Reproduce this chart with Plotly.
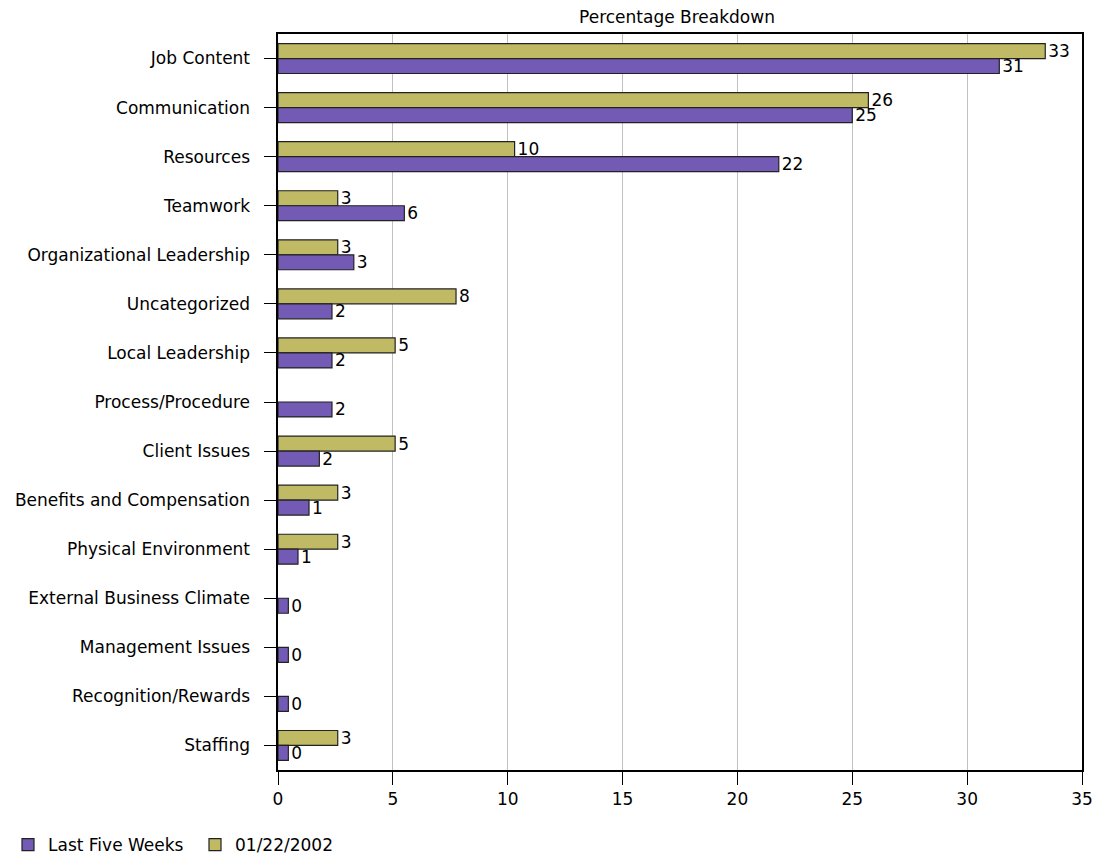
import plotly.graph_objects as go

categories = ["Job Content", "Communication", "Resources", "Teamwork",
              "Organizational Leadership", "Uncategorized", "Local Leadership",
              "Process/Procedure", "Client Issues", "Benefits and Compensation",
              "Physical Environment", "External Business Climate",
              "Management Issues", "Recognition/Rewards", "Staffing"]

last_five_weeks = [31.4, 25.0, 21.8, 5.5, 3.3, 2.35, 2.35, 2.35, 1.8, 1.35,
                   0.87, 0.45, 0.45, 0.45, 0.45]
jan_22_2002 = [33.4, 25.7, 10.3, 2.6, 2.6, 7.75, 5.1, None, 5.1, 2.6,
               2.6, None, None, None, 2.6]

OLIVE = "#BFBA63"
PURPLE = "#735BB5"
FONT = "DejaVu Sans"
FS = 17

fig = go.Figure()
fig.add_trace(go.Bar(
    y=categories, x=jan_22_2002, orientation="h", name="01/22/2002",
    marker=dict(color=OLIVE, line=dict(color="#222222", width=1.2)),
    texttemplate="%{x:.0f}", textposition="outside", cliponaxis=False,
    constraintext="none",
    textfont=dict(family=FONT, size=FS, color="black"), legendrank=2,
))
fig.add_trace(go.Bar(
    y=categories, x=last_five_weeks, orientation="h", name="Last Five Weeks",
    marker=dict(color=PURPLE, line=dict(color="#222222", width=1.2)),
    texttemplate="%{x:.0f}", textposition="outside", cliponaxis=False,
    constraintext="none",
    textfont=dict(family=FONT, size=FS, color="black"), legendrank=1,
))

fig.update_layout(
    width=1102, height=854,
    margin=dict(l=270, r=28, t=26, b=92),
    barmode="group", bargap=0.39, bargroupgap=0,
    paper_bgcolor="white", plot_bgcolor="white",
    font=dict(family=FONT, size=FS, color="black"),
    title=dict(text="Percentage Breakdown", x=(677 - 8) / 1102,
               xanchor="center", y=1 - 9 / 854, yanchor="middle",
               font=dict(size=FS, family=FONT)),
    showlegend=True,
    legend=dict(orientation="h", x=-0.348, xanchor="left",
                yref="container", y=(854 - 837) / 854, yanchor="middle",
                font=dict(size=FS, family=FONT),
                itemwidth=30, traceorder="normal",
                entrywidth=142, entrywidthmode="pixels"),
    uniformtext=dict(mode=False),
)
fig.update_xaxes(range=[0, 35], dtick=5, showgrid=True, gridcolor="#c0c0c0",
                 gridwidth=1, showline=True, linecolor="black", linewidth=1.5,
                 mirror=True, ticks="outside", ticklen=13, tickcolor="black",
                 zeroline=False, tickfont=dict(size=FS), automargin=False)
fig.update_yaxes(autorange="reversed", showline=True, linecolor="black",
                 linewidth=1.5, mirror=True, ticks="outside", ticklen=12,
                 tickcolor="black", showgrid=False, tickfont=dict(size=FS),
                 ticksuffix="  ", automargin=False)

fig.write_html("out.html")
